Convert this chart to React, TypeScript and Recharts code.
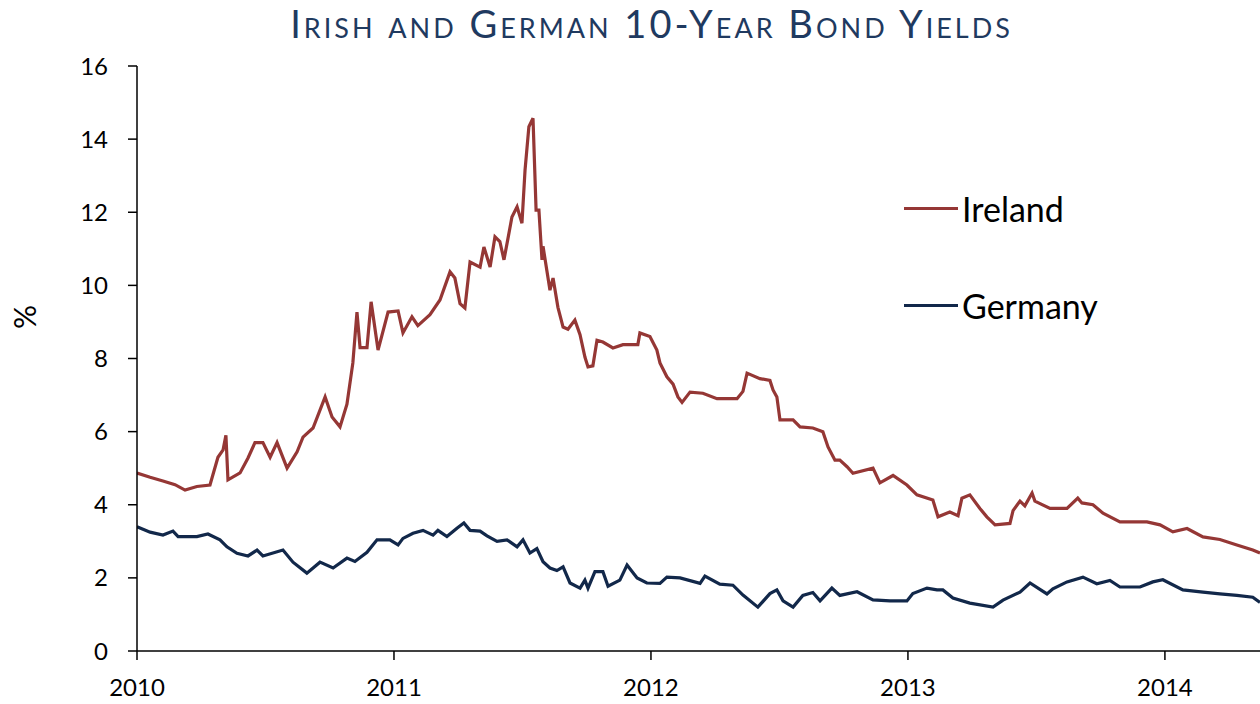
import { LineChart, Line, XAxis, YAxis } from 'recharts';

// decimal years
const irelandDates = [
  2010.0, 2010.051, 2010.101, 2010.148, 2010.187, 2010.233, 2010.284, 2010.315, 2010.335, 2010.346,
  2010.354, 2010.401, 2010.432, 2010.459, 2010.49, 2010.518, 2010.545, 2010.584, 2010.623, 2010.646,
  2010.685, 2010.732, 2010.759, 2010.79, 2010.817, 2010.84, 2010.856, 2010.868, 2010.895, 2010.911,
  2010.938, 2010.977, 2011.016, 2011.035, 2011.07, 2011.093, 2011.14, 2011.179, 2011.218, 2011.237,
  2011.257, 2011.276, 2011.296, 2011.335, 2011.35, 2011.374, 2011.393, 2011.412, 2011.428, 2011.444,
  2011.459, 2011.479, 2011.498, 2011.51, 2011.525, 2011.541, 2011.553, 2011.564, 2011.576, 2011.58,
  2011.595, 2011.607, 2011.619, 2011.638, 2011.658, 2011.677, 2011.704, 2011.724, 2011.743, 2011.755,
  2011.774, 2011.79, 2011.813, 2011.852, 2011.891, 2011.949, 2011.957, 2011.996, 2012.023, 2012.035,
  2012.062, 2012.086, 2012.105, 2012.121, 2012.152, 2012.202, 2012.257, 2012.335, 2012.358, 2012.374,
  2012.424, 2012.463, 2012.475, 2012.49, 2012.502, 2012.553, 2012.58, 2012.63, 2012.669, 2012.689,
  2012.716, 2012.735, 2012.763, 2012.786, 2012.864, 2012.891, 2012.942, 2012.996, 2013.035, 2013.097,
  2013.117, 2013.163, 2013.195, 2013.21, 2013.241, 2013.28, 2013.307, 2013.339, 2013.397, 2013.409,
  2013.436, 2013.455, 2013.483, 2013.494, 2013.553, 2013.619, 2013.661, 2013.677, 2013.72, 2013.759,
  2013.825, 2013.93, 2013.981, 2014.031, 2014.086, 2014.148, 2014.214, 2014.28, 2014.342, 2014.37,
];
const irelandYields = [
  4.87, 4.75, 4.65, 4.55, 4.4, 4.5, 4.54, 5.3, 5.5, 5.9,
  4.68, 4.87, 5.28, 5.7, 5.7, 5.3, 5.7, 5.0, 5.45, 5.85,
  6.1, 6.95, 6.4, 6.13, 6.75, 7.88, 9.27, 8.3, 8.3, 9.55,
  8.23, 9.27, 9.3, 8.7, 9.14, 8.9, 9.2, 9.6, 10.37, 10.2,
  9.5, 9.38, 10.64, 10.5, 11.05, 10.5, 11.33, 11.2, 10.7, 11.3,
  11.87, 12.15, 11.7, 13.15, 14.34, 14.57, 12.06, 12.06, 10.7, 11.07,
  10.4, 9.87, 10.2, 9.4, 8.86, 8.8, 9.05, 8.65, 8.04, 7.77,
  7.8, 8.5, 8.45, 8.29, 8.38, 8.38, 8.7, 8.6, 8.23, 7.88,
  7.5, 7.3, 6.95, 6.8, 7.08, 7.05, 6.9, 6.9, 7.1, 7.6,
  7.45, 7.4, 7.14, 6.95, 6.32, 6.32, 6.13, 6.1, 6.0, 5.58,
  5.22, 5.22, 5.04, 4.86, 5.0, 4.6, 4.8, 4.54, 4.27, 4.13,
  3.67, 3.8, 3.7, 4.18, 4.27, 3.9, 3.67, 3.45, 3.49, 3.84,
  4.1, 3.97, 4.32, 4.1, 3.9, 3.9, 4.18, 4.05, 4.0, 3.77,
  3.53, 3.53, 3.45, 3.26, 3.35, 3.12, 3.05, 2.9, 2.76, 2.68,
];

const germanyDates = [
  2010.0, 2010.051, 2010.101, 2010.14, 2010.16, 2010.233, 2010.276, 2010.323, 2010.35, 2010.389,
  2010.432, 2010.467, 2010.49, 2010.568, 2010.607, 2010.661, 2010.712, 2010.763, 2010.817, 2010.848,
  2010.895, 2010.934, 2010.984, 2011.016, 2011.035, 2011.074, 2011.113, 2011.152, 2011.171, 2011.206,
  2011.245, 2011.272, 2011.296, 2011.335, 2011.362, 2011.401, 2011.44, 2011.479, 2011.502, 2011.529,
  2011.556, 2011.58, 2011.607, 2011.634, 2011.658, 2011.685, 2011.724, 2011.743, 2011.755, 2011.782,
  2011.813, 2011.833, 2011.879, 2011.907, 2011.946, 2011.984, 2012.035, 2012.062, 2012.113, 2012.191,
  2012.21, 2012.268, 2012.319, 2012.358, 2012.416, 2012.463, 2012.49, 2012.514, 2012.553, 2012.591,
  2012.63, 2012.658, 2012.704, 2012.735, 2012.802, 2012.864, 2012.93, 2012.996, 2013.019, 2013.074,
  2013.113, 2013.136, 2013.175, 2013.241, 2013.331, 2013.37, 2013.436, 2013.475, 2013.541, 2013.564,
  2013.619, 2013.681, 2013.735, 2013.786, 2013.825, 2013.903, 2013.953, 2013.992, 2014.07, 2014.148,
  2014.214, 2014.28, 2014.342, 2014.37,
];
const germanyYields = [
  3.4, 3.25, 3.17, 3.28, 3.13, 3.13, 3.2, 3.04, 2.85, 2.67,
  2.6, 2.76, 2.6, 2.76, 2.43, 2.13, 2.43, 2.27, 2.54, 2.45,
  2.7, 3.04, 3.04, 2.9, 3.08, 3.22, 3.3, 3.17, 3.3, 3.13,
  3.36, 3.5, 3.3, 3.28, 3.15, 3.0, 3.04, 2.85, 3.04, 2.68,
  2.8, 2.44, 2.27, 2.2, 2.3, 1.86, 1.72, 1.94, 1.72, 2.17,
  2.17, 1.77, 1.94, 2.35, 2.0, 1.86, 1.85, 2.02, 2.0, 1.85,
  2.05, 1.83, 1.8, 1.53, 1.2, 1.57, 1.67, 1.37, 1.2, 1.52,
  1.6, 1.37, 1.72, 1.52, 1.62, 1.4, 1.37, 1.37, 1.57, 1.72,
  1.67, 1.67, 1.45, 1.31, 1.2, 1.39, 1.61, 1.86, 1.56, 1.7,
  1.89, 2.02, 1.84, 1.93, 1.75, 1.75, 1.89, 1.95, 1.67, 1.61,
  1.56, 1.52, 1.47, 1.33,
];

const yearTicks = [2010, 2011, 2012, 2013, 2014];
const yieldTicks = [0, 2, 4, 6, 8, 10, 12, 14, 16];

const irelandData = irelandDates.map((t, i) => ({ t, v: irelandYields[i] }));
const germanyData = germanyDates.map((t, i) => ({ t, v: germanyYields[i] }));

const FONT = 'Lato, "Open Sans", sans-serif';
const IRL = '#953735';
const GER = '#12284a';

const legendItems = [
  { name: 'Ireland', color: IRL, top: 188 },
  { name: 'Germany', color: GER, top: 285 },
];

export default function App() {
  return (
    <div style={{ position: 'absolute', left: 0, top: 0, width: 1260, height: 704, background: '#fff', fontFamily: FONT }}>
      <div
        style={{
          position: 'absolute', left: 0, width: 1303, top: 0, textAlign: 'center',
          fontSize: 38, fontVariant: 'small-caps', color: '#1f3a60', letterSpacing: 3,
        }}
      >
        Irish and German 10-Year Bond Yields
      </div>
      <div
        style={{
          position: 'absolute', left: 12, top: 299, fontSize: 30, color: '#000',
          transform: 'rotate(-90deg)', transformOrigin: 'center',
        }}
      >
        %
      </div>
      <LineChart width={1260} height={704} margin={{ top: 66, right: 0, bottom: 13, left: 0 }}>
        <XAxis
          type="number"
          dataKey="t"
          domain={[2010, 2014.37]}
          ticks={yearTicks}
          allowDataOverflow
          height={40}
          tickSize={9}
          tickMargin={19}
          stroke="#000"
          strokeWidth={1.5}
          tick={{ fill: '#000', fontSize: 24, fontFamily: FONT }}
        />
        <YAxis
          type="number"
          dataKey="v"
          domain={[0, 16]}
          ticks={yieldTicks}
          width={137}
          tickSize={9}
          tickMargin={20}
          stroke="#000"
          strokeWidth={1.5}
          tick={{ fill: '#000', fontSize: 24, fontFamily: FONT }}
        />
        <Line data={irelandData} dataKey="v" type="linear" stroke={IRL} strokeWidth={3.2} dot={false} isAnimationActive={false} />
        <Line data={germanyData} dataKey="v" type="linear" stroke={GER} strokeWidth={3.2} dot={false} isAnimationActive={false} />
      </LineChart>
      {legendItems.map(item => (
        <div key={item.name} style={{ position: 'absolute', left: 904, top: item.top, display: 'flex', alignItems: 'center' }}>
          <div style={{ width: 54, height: 3, background: item.color, marginRight: 4 }} />
          <span style={{ fontSize: 34, color: '#000' }}>{item.name}</span>
        </div>
      ))}
    </div>
  );
}
